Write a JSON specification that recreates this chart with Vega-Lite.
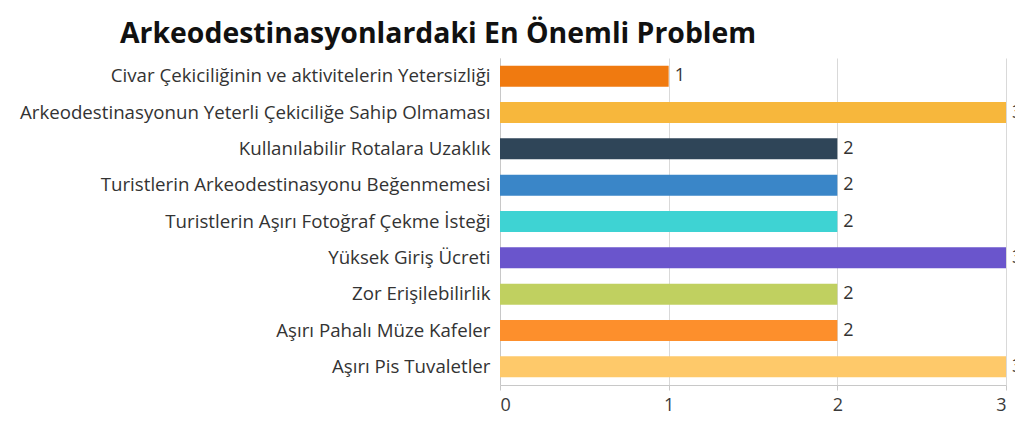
{
  "$schema": "https://vega.github.io/schema/vega-lite/v6.json",
  "width": 506,
  "height": 327,
  "autosize": {"type": "none"},
  "padding": {"left": 500, "top": 58, "right": 9, "bottom": 47},
  "background": "white",
  "title": {
    "text": "Arkeodestinasyonlardaki En Önemli Problem",
    "anchor": "start",
    "frame": "group",
    "dx": -380,
    "offset": 9,
    "font": "Open Sans",
    "fontSize": 28.4,
    "fontWeight": "bold",
    "color": "#111111"
  },
  "data": {
    "values": [
      {"problem": "Civar Çekiciliğinin ve aktivitelerin Yetersizliği", "value": 1, "color": "#f07a10"},
      {"problem": "Arkeodestinasyonun Yeterli Çekiciliğe Sahip Olmaması", "value": 3, "color": "#f7b73c"},
      {"problem": "Kullanılabilir Rotalara Uzaklık", "value": 2, "color": "#2f4558"},
      {"problem": "Turistlerin Arkeodestinasyonu Beğenmemesi", "value": 2, "color": "#3a86c8"},
      {"problem": "Turistlerin Aşırı Fotoğraf Çekme İsteği", "value": 2, "color": "#3ed3d3"},
      {"problem": "Yüksek Giriş Ücreti", "value": 3, "color": "#6a55cc"},
      {"problem": "Zor Erişilebilirlik", "value": 2, "color": "#c0d060"},
      {"problem": "Aşırı Pahalı Müze Kafeler", "value": 2, "color": "#fd8f2c"},
      {"problem": "Aşırı Pis Tuvaletler", "value": 3, "color": "#fec96a"}
    ]
  },
  "encoding": {
    "y": {
      "field": "problem",
      "type": "nominal",
      "sort": null,
      "scale": {"paddingInner": 0.42, "paddingOuter": 0.21},
      "axis": {
        "title": null,
        "ticks": false,
        "labelPadding": 10,
        "labelFont": "Open Sans",
        "labelFontSize": 18.7,
        "labelColor": "#333333",
        "labelLimit": 500,
        "domainColor": "#c8c8c8"
      }
    },
    "x": {
      "field": "value",
      "type": "quantitative",
      "scale": {"domain": [0, 3], "nice": false},
      "axis": {
        "title": null,
        "values": [0, 1, 2, 3],
        "format": "d",
        "gridColor": "#d9d9d9",
        "domainColor": "#c8c8c8",
        "tickColor": "#c8c8c8",
        "tickSize": 5,
        "labelFont": "Open Sans",
        "labelFontSize": 18,
        "labelColor": "#3a3a3a",
        "labelPadding": 6
      }
    }
  },
  "layer": [
    {
      "mark": {"type": "bar"},
      "encoding": {
        "color": {"field": "color", "type": "nominal", "scale": null, "legend": null}
      }
    },
    {
      "mark": {"type": "text", "align": "left", "baseline": "middle", "dx": 6, "font": "Open Sans", "fontSize": 18, "color": "#333333"},
      "encoding": {"text": {"field": "value", "type": "quantitative"}}
    }
  ],
  "config": {"view": {"stroke": null}}
}
